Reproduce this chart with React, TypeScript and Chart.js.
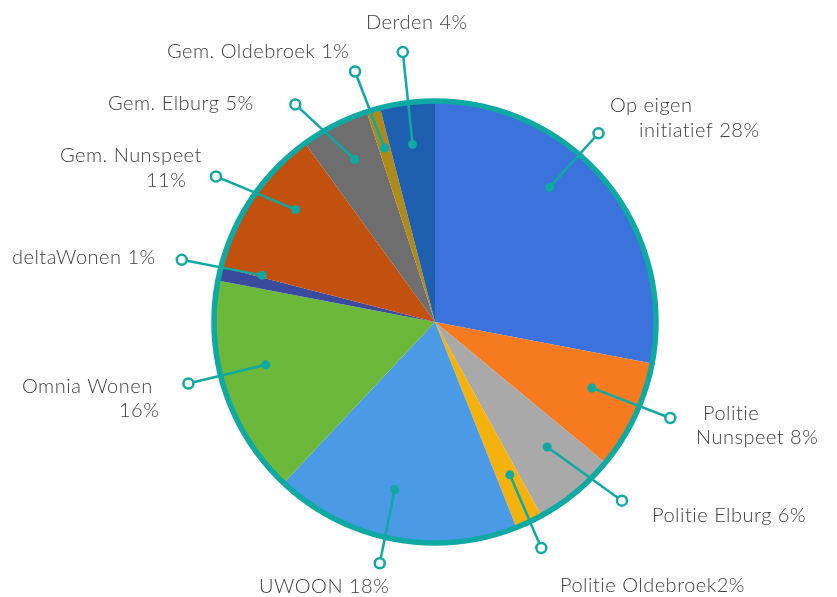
import React, { useEffect, useRef } from "react";
import { Chart, registerables } from "chart.js";

Chart.register(...registerables);

// ---- data ----
const categories: string[] = [
  "Op eigen initiatief",
  "Politie Nunspeet",
  "Politie Elburg",
  "Politie Oldebroek",
  "UWOON",
  "Omnia Wonen",
  "deltaWonen",
  "Gem. Nunspeet",
  "Gem. Elburg",
  "Gem. Oldebroek",
  "Derden",
];
const percentages: number[] = [28, 8, 6, 2, 18, 16, 1, 11, 5, 1, 4];

// label text lines as shown in the chart
const labelLines: string[][] = [
  ["Op eigen", "initiatief 28%"],
  ["Politie", "Nunspeet 8%"],
  ["Politie Elburg 6%"],
  ["Politie Oldebroek2%"],
  ["UWOON 18%"],
  ["Omnia Wonen", "16%"],
  ["deltaWonen 1%"],
  ["Gem. Nunspeet", "11%"],
  ["Gem. Elburg 5%"],
  ["Gem. Oldebroek 1%"],
  ["Derden 4%"],
];

// ---- styling / layout (not data) ----
const sliceColors: string[] = [
  "#3b72dc",
  "#f67b20",
  "#a9a9a9",
  "#f3b20e",
  "#4a9ae6",
  "#6cb83a",
  "#3a4a9c",
  "#c2500f",
  "#6e6e6e",
  "#b08a18",
  "#1f5fb0",
];
// left x / baseline y of each text line
const labelPos: [number, number][][] = [
  [[610, 112], [639, 137]],
  [[703, 420], [696, 444]],
  [[652, 522]],
  [[560, 592]],
  [[259, 593]],
  [[22, 393], [119, 417]],
  [[12, 264]],
  [[60, 162], [146, 187]],
  [[108, 110]],
  [[167, 58]],
  [[366, 29]],
];
// leader line layout relative to slice middle:
// [inner angle offset (deg), inner radius factor, outer angle offset (deg), outer radius factor]
const leaderLayout: [number, number, number, number][] = [
  [-10, 0.8, -9.5, 1.13],
  [-2.4, 0.77, -3, 1.15],
  [-2.3, 0.76, -6.7, 1.17],
  [-0.9, 0.77, 0, 1.13],
  [2.7, 0.78, 2.1, 1.12],
  [3.8, 0.79, 4, 1.15],
  [2.5, 0.81, 1.2, 1.18],
  [4.7, 0.81, -0.6, 1.19],
  [0.7, 0.82, -5.7, 1.17],
  [0, 0.82, -1.5, 1.19],
  [0, 0.81, 0.4, 1.23],
];

const TEAL = "#0ea9a2";
const TEXT = "#404040";

const decorPlugin = {
  id: "decor",
  afterDatasetsDraw(chart: any) {
    const ctx: CanvasRenderingContext2D = chart.ctx;
    const meta = chart.getDatasetMeta(0);
    if (!meta || !meta.data.length) return;
    const a0 = meta.data[0];
    const cx = a0.x;
    const cy = a0.y;
    const R = a0.outerRadius;
    const d2r = Math.PI / 180;
    ctx.save();
    // outer ring
    ctx.beginPath();
    ctx.arc(cx, cy, R, 0, Math.PI * 2);
    ctx.strokeStyle = TEAL;
    ctx.lineWidth = 5.5;
    ctx.stroke();

    meta.data.forEach((arc: any, i: number) => {
      const mid = (arc.startAngle + arc.endAngle) / 2;
      const [ai, ri, ao, ro] = leaderLayout[i];
      const x1 = cx + Math.cos(mid + ai * d2r) * ri * R;
      const y1 = cy + Math.sin(mid + ai * d2r) * ri * R;
      const x2 = cx + Math.cos(mid + ao * d2r) * ro * R;
      const y2 = cy + Math.sin(mid + ao * d2r) * ro * R;
      ctx.beginPath();
      ctx.moveTo(x1, y1);
      ctx.lineTo(x2, y2);
      ctx.strokeStyle = TEAL;
      ctx.lineWidth = 2.5;
      ctx.stroke();
      ctx.beginPath();
      ctx.arc(x1, y1, 4.5, 0, Math.PI * 2);
      ctx.fillStyle = TEAL;
      ctx.fill();
      ctx.beginPath();
      ctx.arc(x2, y2, 5, 0, Math.PI * 2);
      ctx.fillStyle = "#ffffff";
      ctx.fill();
      ctx.lineWidth = 2.5;
      ctx.strokeStyle = TEAL;
      ctx.stroke();

      // text
      ctx.fillStyle = TEXT;
      ctx.font = "300 20px Lato";
      (ctx as any).letterSpacing = "0.5px";
      ctx.textAlign = "left";
      ctx.textBaseline = "alphabetic";
      const lines = labelLines[i];
      const pos = labelPos[i];
      lines.forEach((t, j) => {
        ctx.fillText(t, pos[j][0], pos[j][1]);
      });
      (ctx as any).letterSpacing = "0px";
    });
    ctx.restore();
  },
};

export default function App() {
  const ref = useRef<HTMLCanvasElement | null>(null);
  useEffect(() => {
    if (!ref.current) return;
    const chart = new Chart(ref.current, {
      type: "pie",
      data: {
        labels: categories,
        datasets: [
          {
            data: percentages,
            backgroundColor: sliceColors,
            borderWidth: 0,
          },
        ],
      },
      options: {
        animation: false,
        responsive: false,
        devicePixelRatio: 1,
        radius: 221,
        layout: { padding: { left: 33, right: 0, top: 47, bottom: 0 } },
        plugins: {
          legend: { display: false },
          tooltip: { enabled: false },
        },
      } as any,
      plugins: [decorPlugin],
    });
    return () => chart.destroy();
  }, []);
  return (
    <div style={{ position: "absolute", left: 0, top: 0, width: 837, height: 597, background: "#fff" }}>
      <canvas ref={ref} width={837} height={597} style={{ display: "block" }} />
    </div>
  );
}
